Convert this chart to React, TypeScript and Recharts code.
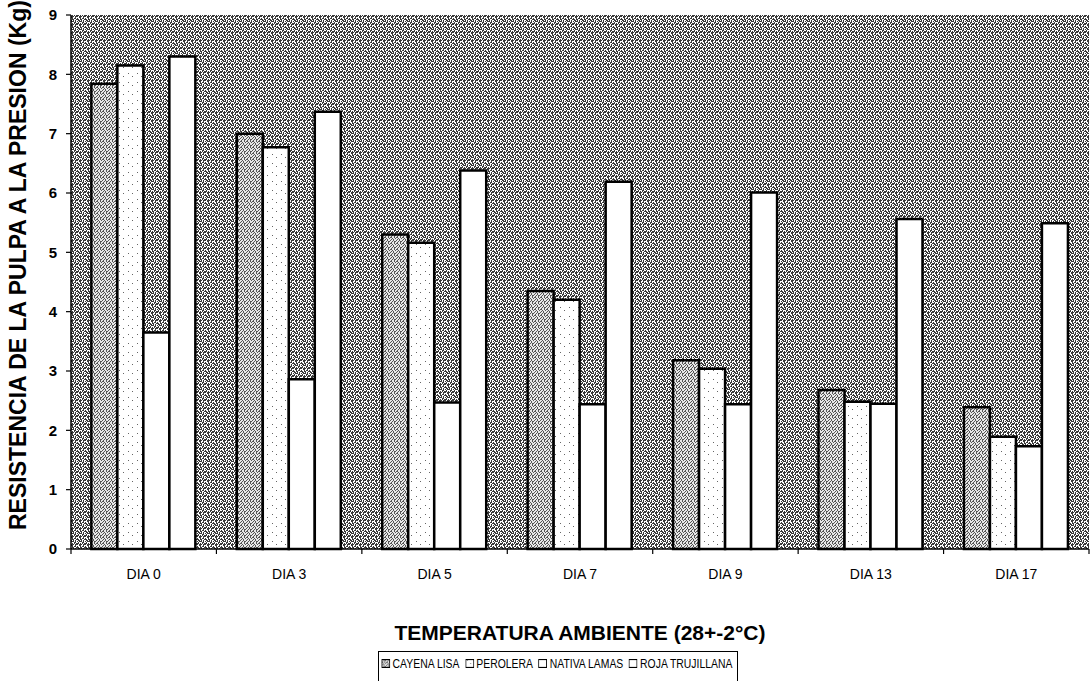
import React from 'react';
import { BarChart, Bar, XAxis, YAxis, CartesianGrid, Legend } from 'recharts';

// Firmness of the pulp (pressure resistance) per storage day, ambient temperature
const days = ['DIA 0', 'DIA 3', 'DIA 5', 'DIA 7', 'DIA 9', 'DIA 13', 'DIA 17'];
const cayenaLisa = [7.84, 7.0, 5.3, 4.35, 3.18, 2.68, 2.39];
const perolera = [8.15, 6.77, 5.16, 4.2, 3.04, 2.48, 1.89];
const nativaLamas = [3.65, 2.86, 2.47, 2.44, 2.44, 2.45, 1.73];
const rojaTrujillana = [8.3, 7.37, 6.38, 6.19, 6.01, 5.56, 5.49];
const yTicks = [0, 1, 2, 3, 4, 5, 6, 7, 8, 9];

const seriesNames = ['CAYENA LISA', 'PEROLERA', 'NATIVA LAMAS', 'ROJA TRUJILLANA'];
const seriesKeys = ['cayena', 'perolera', 'nativa', 'roja'];
const seriesFills = ['url(#fillCayena)', 'url(#fillPerolera)', '#ffffff', '#ffffff'];

const data = days.map((day, i) => ({
  day,
  cayena: cayenaLisa[i],
  perolera: perolera[i],
  nativa: nativaLamas[i],
  roja: rojaTrujillana[i],
}));

const FONT = '"Liberation Sans", Arial, Helvetica, sans-serif';
const WIDTH = 1092;
const HEIGHT = 681;
const PLOT_LEFT = 71;
const PLOT_RIGHT = 1089;
const BAND = (PLOT_RIGHT - PLOT_LEFT) / days.length;

// Pixel tiles for the print-style textures
const BG_TILE = [
  '##.###.#',
  '#..#...#',
  '#.##.#..',
  '##..###.',
  '.#.#..##',
  '##.#.#.#',
  '..##..#.',
  '#.#.###.',
];
const CAYENA_TILE = [
  '#..#..',
  '..#.##',
  '.#..#.',
  '##..#.',
  '..#..#',
  '.#.#..',
];
const PEROLERA_TILE = [
  '.........',
  '..#......',
  '.........',
  '.........',
  '......#..',
  '.........',
  '.........',
  '.........',
  '.........',
];

function TilePattern({ id, rows, ink, paper }: { id: string; rows: string[]; ink: string; paper: string }) {
  const size = rows.length;
  const cells: React.ReactNode[] = [];
  rows.forEach((row, y) =>
    row.split('').forEach((c, x) => {
      if (c === '#') cells.push(<rect key={`${x}-${y}`} x={x} y={y} width={1} height={1} fill={ink} />);
    })
  );
  return (
    <pattern id={id} width={size} height={size} patternUnits="userSpaceOnUse">
      <rect width={size} height={size} fill={paper} />
      {cells}
    </pattern>
  );
}

function DayTick(props: any) {
  const { x, y, payload, index } = props;
  const left = x - BAND / 2;
  const right = x + BAND / 2;
  return (
    <g>
      <line x1={left} y1={y} x2={left} y2={y + 5} stroke="#000" strokeWidth={1.2} />
      {index === days.length - 1 && (
        <line x1={right} y1={y} x2={right} y2={y + 5} stroke="#000" strokeWidth={1.2} />
      )}
      <text x={x} y={y + 30} textAnchor="middle" fontSize={14} fontFamily={FONT} fill="#000">
        {payload.value}
      </text>
    </g>
  );
}

function XTitle(props: any) {
  const vb = props.viewBox || { x: PLOT_LEFT, width: PLOT_RIGHT - PLOT_LEFT };
  return (
    <text x={vb.x + vb.width / 2} y={640} textAnchor="middle" fontSize={21} fontWeight="bold" fontFamily={FONT} fill="#000">
      TEMPERATURA AMBIENTE (28+-2°C)
    </text>
  );
}

function YTitle() {
  return (
    <text transform="translate(26, 530) rotate(-90)" textAnchor="start" fontSize={23} fontWeight="bold" fontFamily={FONT} fill="#000">
      RESISTENCIA DE LA PULPA A LA PRESION (Kg)
    </text>
  );
}

function LegendBox() {
  return (
    <div
      style={{
        borderTop: '1px solid #000',
        borderLeft: '1px solid #000',
        borderRight: '1px solid #000',
        height: 30,
        boxSizing: 'border-box',
        overflow: 'hidden',
      }}
    >
      <div
        style={{
          display: 'flex',
          alignItems: 'flex-start',
          paddingTop: 4,
          paddingLeft: 3,
          fontFamily: FONT,
          fontSize: 13,
          color: '#000',
          whiteSpace: 'nowrap',
          lineHeight: '15px',
          transform: 'scaleX(0.8)',
          transformOrigin: 'left top',
        }}
      >
        {seriesNames.map((name, i) => (
          <span key={name} style={{ display: 'inline-flex', alignItems: 'center', marginRight: 7 }}>
            <svg width={11} height={9} style={{ display: 'block' }}>
              <rect x={0.5} y={0.5} width={10} height={8} fill={seriesFills[i]} stroke="#000" strokeWidth={1.2} />
            </svg>
            <span style={{ marginLeft: 3 }}>{name}</span>
          </span>
        ))}
      </div>
    </div>
  );
}

export default function App() {
  return (
    <div style={{ position: 'absolute', top: 0, left: 0, width: WIDTH, height: HEIGHT, background: '#fff' }}>
      <BarChart
        width={WIDTH}
        height={HEIGHT}
        data={data}
        margin={{ top: 15, right: 3, bottom: 92, left: 0 }}
        barGap={0}
        barCategoryGap="14%"
        style={{ fontFamily: FONT }}
      >
        <defs>
          <TilePattern id="bgHalftone" rows={BG_TILE} ink="#3a3a3a" paper="#ffffff" />
          <TilePattern id="fillCayena" rows={CAYENA_TILE} ink="#555555" paper="#e8e8e8" />
          <TilePattern id="fillPerolera" rows={PEROLERA_TILE} ink="#666666" paper="#ffffff" />
        </defs>
        <CartesianGrid horizontal={false} vertical={false} fill="url(#bgHalftone)" fillOpacity={1} />
        <XAxis
          dataKey="day"
          interval={0}
          height={40}
          tickSize={0}
          tickMargin={0}
          tickLine={false}
          axisLine={{ stroke: '#000', strokeWidth: 1.5 }}
          tick={<DayTick />}
          label={<XTitle />}
        />
        <XAxis
          xAxisId="top"
          orientation="top"
          dataKey="day"
          height={0}
          tick={false}
          tickLine={false}
          axisLine={{ stroke: '#000', strokeWidth: 1 }}
        />
        <YAxis
          width={PLOT_LEFT}
          domain={[0, 9]}
          ticks={yTicks}
          interval={0}
          tickSize={5}
          tickMargin={9}
          tickLine={{ stroke: '#000', strokeWidth: 1.2 }}
          axisLine={{ stroke: '#000', strokeWidth: 1.5 }}
          tick={{ fontSize: 15, fontWeight: 'bold', fill: '#000', fontFamily: FONT }}
          label={<YTitle />}
        />
        <YAxis
          yAxisId="right"
          orientation="right"
          width={0}
          domain={[0, 9]}
          tick={false}
          tickLine={false}
          axisLine={{ stroke: '#000', strokeWidth: 1.5 }}
        />
        <Legend
          layout="horizontal"
          verticalAlign="middle"
          align="center"
          wrapperStyle={{ top: 651, left: 378, width: 360, height: 30 }}
          content={<LegendBox />}
        />
        {seriesKeys.map((key, i) => (
          <Bar
            key={key}
            dataKey={key}
            name={seriesNames[i]}
            fill={seriesFills[i]}
            stroke="#000"
            strokeWidth={2.5}
            isAnimationActive={false}
          />
        ))}
      </BarChart>
    </div>
  );
}
